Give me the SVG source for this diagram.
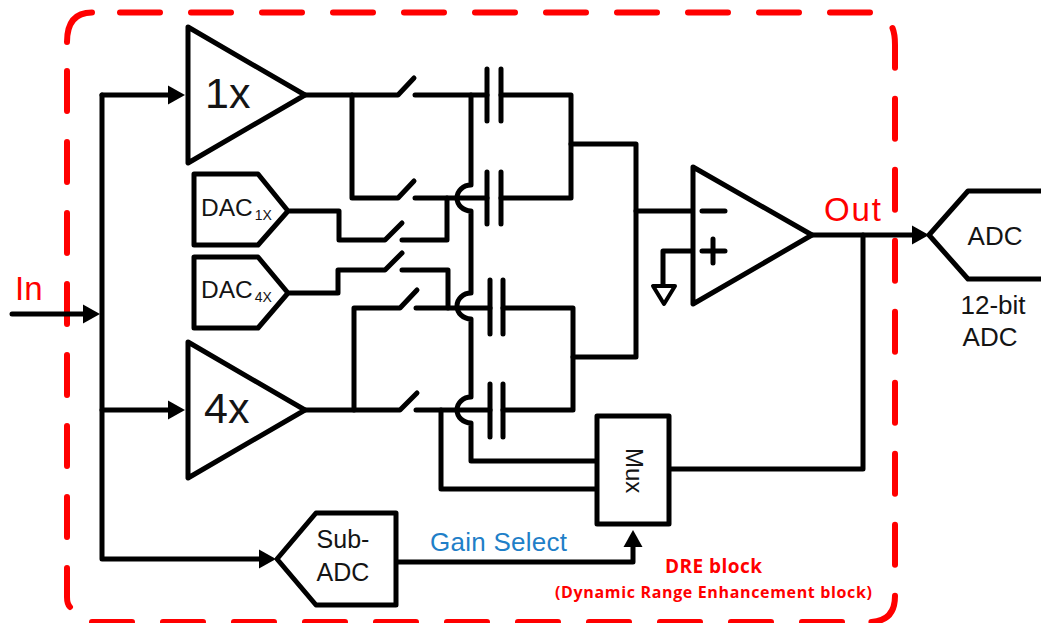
<svg xmlns="http://www.w3.org/2000/svg" width="1041" height="623" viewBox="0 0 1041 623">
<style>
text{font-family:"Liberation Sans",Arial,sans-serif;fill:#141414}
.b{fill:#fff;stroke:#000;stroke-width:5;stroke-linejoin:round;stroke-linecap:round}
.w{fill:none;stroke:#000;stroke-width:5;stroke-linejoin:round;stroke-linecap:round}
.r{fill:none;stroke:#f00;stroke-width:6;stroke-linecap:round}
.d{stroke-dasharray:40 31}
.red{fill:#f00}
.dre{font-family:"Open Sans","Noto Sans",sans-serif;font-weight:700;fill:#f00}
</style>
<defs>
<marker id="arrow" markerUnits="userSpaceOnUse" markerWidth="18" markerHeight="20" viewBox="0 0 18 20" refX="2" refY="10" orient="auto"><path d="M0,0.5 L17,10 L0,19.5Z" fill="#000"/></marker>
</defs>
<g id="dre-border">
<path class="r" d="M67,42 Q67,12.5 92,12.5"/>
<path class="r d" d="M120,12.5 H872"/>
<path class="r d" d="M892.5,28 Q895,34 895,45 V596 Q895,622 869,622"/>
<path class="r d" d="M842,622 H90"/>
<path class="r d" d="M67,71 V597 Q67,604 70,607"/>
</g>
<g id="connectors">
<path class="w" d="M12,314 H85" marker-end="url(#arrow)"/>
<path class="w" d="M102,95 H170" marker-end="url(#arrow)"/>
<path class="w" d="M102,95 V559 H261" marker-end="url(#arrow)"/>
<path class="w" d="M102,410 H170" marker-end="url(#arrow)"/>
<path class="w" d="M305,95 H398 L414,78"/>
<path class="w" d="M352,95 V198 H398 L414,181"/>
<path class="w" d="M415,95 H487"/>
<path class="w" d="M415,198 H487"/>
<path class="w" d="M290,211 H339 V240 H385 L402,223"/>
<path class="w" d="M402,240 H447 V198"/>
<path class="w" d="M290,293 H338 V270 H385 L402,253"/>
<path class="w" d="M402,270 H448 V308"/>
<path class="w" d="M305,410 H400 L417,393"/>
<path class="w" d="M354,410 V308 H400 L417,290"/>
<path class="w" d="M416,308 H490"/>
<path class="w" d="M416,410 H490"/>
<path class="w" d="M471,95 V185 A14,13 0 0 0 471,211 V293 A14,13 0 0 0 471,319 V397 A14,13 0 0 0 471,423 V461 H597"/>
<path class="w" d="M441,410 V489 H597"/>
<path class="w" d="M501,95 H571 V198 H501"/>
<path class="w" d="M503,308 H573 V410 H503"/>
<path class="w" d="M571,144 H636 V357 H573"/>
<path class="w" d="M636,211 H693"/>
<path class="w" d="M693,251 H663 V285"/>
<path class="w" d="M812,235 H914" marker-end="url(#arrow)"/>
<path class="w" d="M863,235 V469 H669"/>
<path class="w" d="M396,562 H633 V545" marker-end="url(#arrow)"/>
</g>
<g id="amp-1x"><path class="b" d="M188,27 L305,95 L188,163Z"/><text x="205" y="108" font-size="43">1x</text></g>
<g id="amp-4x"><path class="b" d="M188,342 L305,410 L188,478Z"/><text x="204" y="423" font-size="43">4x</text></g>
<g id="dac-1x"><path class="b" d="M194,174 H258 L288,211 L258,245 H194Z"/><text x="201" y="216" font-size="24.5">DAC<tspan font-size="14" dy="4" dx="2">1X</tspan></text></g>
<g id="dac-4x"><path class="b" d="M194,257 H258 L288,293 L258,328 H194Z"/><text x="201" y="298" font-size="24.5">DAC<tspan font-size="14" dy="4" dx="2">4X</tspan></text></g>
<g id="cap-1"><path class="w" d="M487,69 V121 M501,69 V121"/></g>
<g id="cap-2"><path class="w" d="M487,172 V224 M501,172 V224"/></g>
<g id="cap-3"><path class="w" d="M490,280 V334 M503,280 V334"/></g>
<g id="cap-4"><path class="w" d="M490,384 V437 M503,384 V437"/></g>
<g id="opamp">
<path class="b" d="M693,167 L812,235 L693,304Z"/>
<path class="w" d="M702,211 H725 M702,251 H725 M713,239 V263"/>
</g>
<g id="ground"><path class="b" style="stroke-width:4" d="M653,286 H675 L664,304Z"/></g>
<g id="mux"><rect class="b" x="597" y="416" width="72" height="108"/><text transform="translate(626,448) rotate(90)" font-size="24">Mux</text></g>
<g id="sub-adc"><path class="b" d="M277,559 L316,513 H396 V605 H316Z"/><text x="343" y="548" font-size="25" text-anchor="middle">Sub-</text><text x="343" y="581" font-size="25" text-anchor="middle">ADC</text></g>
<g id="adc"><path class="b" d="M1046,191 H968 L929,235 L968,279 H1046"/><text x="995" y="245" font-size="26" text-anchor="middle">ADC</text></g>
<g id="labels">
<text x="993" y="314" font-size="26" text-anchor="middle">12-bit</text>
<text x="990" y="346" font-size="26" text-anchor="middle">ADC</text>
<text class="red" x="15" y="300" font-size="33">In</text>
<text class="red" x="824" y="221" font-size="33" textLength="57">Out</text>
<text x="430" y="551" font-size="26" textLength="137" style="fill:#1f7fc8">Gain Select</text>
<text class="dre" x="665" y="573" font-size="19" textLength="97">DRE block</text>
<text class="dre" x="555" y="598" font-size="16" textLength="317">(Dynamic Range Enhancement block)</text>
</g>
</svg>
